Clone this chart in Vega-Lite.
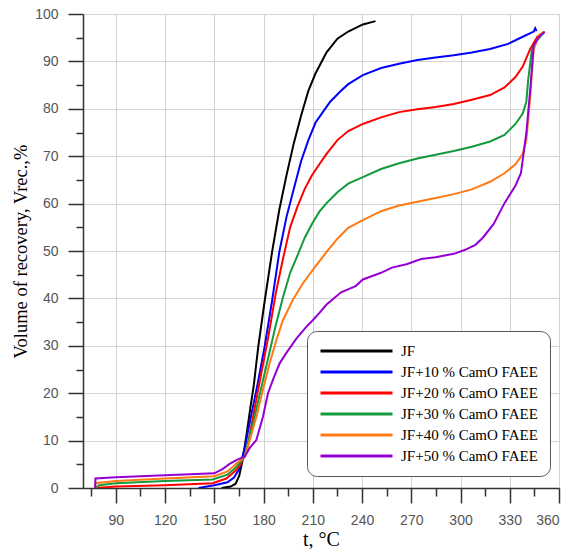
{
  "$schema": "https://vega.github.io/schema/vega-lite/v6.json",
  "width": 476,
  "height": 474,
  "autosize": {"type": "none"},
  "padding": {"left": 83, "top": 14, "right": 10, "bottom": 61},
  "background": "white",
  "config": {
    "view": {"stroke": null},
    "axis": {
      "labelFont": "Liberation Sans",
      "labelFontSize": 14,
      "labelColor": "#555555",
      "titleFont": "Liberation Serif",
      "titleFontSize": 20,
      "titleFontWeight": "normal",
      "titleColor": "#000000",
      "domainColor": "#333333",
      "domainWidth": 1.5,
      "tickColor": "#333333",
      "tickWidth": 1.5,
      "gridColor": "#d3d3d3",
      "gridWidth": 1
    }
  },
  "data": {
    "values": [
      {"s": "JF", "t": 154.5, "v": 0},
      {"s": "JF", "t": 160, "v": 0.3},
      {"s": "JF", "t": 163, "v": 0.9},
      {"s": "JF", "t": 165.2, "v": 2.6},
      {"s": "JF", "t": 167, "v": 5.5},
      {"s": "JF", "t": 169.7, "v": 11.4},
      {"s": "JF", "t": 172, "v": 17},
      {"s": "JF", "t": 174.1, "v": 21.8},
      {"s": "JF", "t": 176.8, "v": 29.9},
      {"s": "JF", "t": 180.7, "v": 39.5},
      {"s": "JF", "t": 185.2, "v": 49.8},
      {"s": "JF", "t": 189.6, "v": 58.7},
      {"s": "JF", "t": 194, "v": 66},
      {"s": "JF", "t": 198.4, "v": 72.7},
      {"s": "JF", "t": 202.9, "v": 78.6},
      {"s": "JF", "t": 207.3, "v": 83.8},
      {"s": "JF", "t": 211.7, "v": 87.5},
      {"s": "JF", "t": 218.4, "v": 91.9},
      {"s": "JF", "t": 225, "v": 94.8},
      {"s": "JF", "t": 231.6, "v": 96.3},
      {"s": "JF", "t": 240.5, "v": 97.8},
      {"s": "JF", "t": 248.2, "v": 98.5},

      {"s": "JF+10 % CamO FAEE", "t": 140.4, "v": 0},
      {"s": "JF+10 % CamO FAEE", "t": 150, "v": 0.6},
      {"s": "JF+10 % CamO FAEE", "t": 158, "v": 1.2},
      {"s": "JF+10 % CamO FAEE", "t": 162, "v": 2.2},
      {"s": "JF+10 % CamO FAEE", "t": 165.2, "v": 4},
      {"s": "JF+10 % CamO FAEE", "t": 168.6, "v": 8.5},
      {"s": "JF+10 % CamO FAEE", "t": 171.9, "v": 14.4},
      {"s": "JF+10 % CamO FAEE", "t": 176.3, "v": 21.8},
      {"s": "JF+10 % CamO FAEE", "t": 180.7, "v": 29.9},
      {"s": "JF+10 % CamO FAEE", "t": 185.2, "v": 39.5},
      {"s": "JF+10 % CamO FAEE", "t": 189.6, "v": 49.8},
      {"s": "JF+10 % CamO FAEE", "t": 194, "v": 57.2},
      {"s": "JF+10 % CamO FAEE", "t": 198.4, "v": 63.1},
      {"s": "JF+10 % CamO FAEE", "t": 202.9, "v": 69},
      {"s": "JF+10 % CamO FAEE", "t": 207.3, "v": 73.4},
      {"s": "JF+10 % CamO FAEE", "t": 211.7, "v": 77.1},
      {"s": "JF+10 % CamO FAEE", "t": 216.1, "v": 79.3},
      {"s": "JF+10 % CamO FAEE", "t": 220.6, "v": 81.5},
      {"s": "JF+10 % CamO FAEE", "t": 227.2, "v": 83.8},
      {"s": "JF+10 % CamO FAEE", "t": 231.6, "v": 85.2},
      {"s": "JF+10 % CamO FAEE", "t": 240.5, "v": 87.1},
      {"s": "JF+10 % CamO FAEE", "t": 251.6, "v": 88.6},
      {"s": "JF+10 % CamO FAEE", "t": 262.6, "v": 89.5},
      {"s": "JF+10 % CamO FAEE", "t": 273.7, "v": 90.3},
      {"s": "JF+10 % CamO FAEE", "t": 284.8, "v": 90.8},
      {"s": "JF+10 % CamO FAEE", "t": 295.9, "v": 91.3},
      {"s": "JF+10 % CamO FAEE", "t": 306.9, "v": 91.9},
      {"s": "JF+10 % CamO FAEE", "t": 318, "v": 92.6},
      {"s": "JF+10 % CamO FAEE", "t": 329, "v": 93.7},
      {"s": "JF+10 % CamO FAEE", "t": 337.9, "v": 95.2},
      {"s": "JF+10 % CamO FAEE", "t": 344.6, "v": 96.3},
      {"s": "JF+10 % CamO FAEE", "t": 345.5, "v": 97},
      {"s": "JF+10 % CamO FAEE", "t": 346.3, "v": 96.4},

      {"s": "JF+20 % CamO FAEE", "t": 77.4, "v": 0},
      {"s": "JF+20 % CamO FAEE", "t": 90, "v": 0.3},
      {"s": "JF+20 % CamO FAEE", "t": 120, "v": 0.6},
      {"s": "JF+20 % CamO FAEE", "t": 149, "v": 1.0},
      {"s": "JF+20 % CamO FAEE", "t": 157.3, "v": 2},
      {"s": "JF+20 % CamO FAEE", "t": 163.4, "v": 3.8},
      {"s": "JF+20 % CamO FAEE", "t": 166, "v": 5},
      {"s": "JF+20 % CamO FAEE", "t": 169.7, "v": 7.7},
      {"s": "JF+20 % CamO FAEE", "t": 174.1, "v": 15.9},
      {"s": "JF+20 % CamO FAEE", "t": 178.5, "v": 24},
      {"s": "JF+20 % CamO FAEE", "t": 183, "v": 32.1},
      {"s": "JF+20 % CamO FAEE", "t": 187.4, "v": 41},
      {"s": "JF+20 % CamO FAEE", "t": 191.8, "v": 48.3},
      {"s": "JF+20 % CamO FAEE", "t": 196.2, "v": 55},
      {"s": "JF+20 % CamO FAEE", "t": 200.7, "v": 59.4},
      {"s": "JF+20 % CamO FAEE", "t": 205.1, "v": 63.1},
      {"s": "JF+20 % CamO FAEE", "t": 209.5, "v": 66},
      {"s": "JF+20 % CamO FAEE", "t": 214, "v": 68.3},
      {"s": "JF+20 % CamO FAEE", "t": 218.4, "v": 70.5},
      {"s": "JF+20 % CamO FAEE", "t": 225, "v": 73.4},
      {"s": "JF+20 % CamO FAEE", "t": 231.6, "v": 75.3},
      {"s": "JF+20 % CamO FAEE", "t": 240.5, "v": 76.8},
      {"s": "JF+20 % CamO FAEE", "t": 251.6, "v": 78.2},
      {"s": "JF+20 % CamO FAEE", "t": 262.6, "v": 79.3},
      {"s": "JF+20 % CamO FAEE", "t": 273.7, "v": 79.9},
      {"s": "JF+20 % CamO FAEE", "t": 284.8, "v": 80.4},
      {"s": "JF+20 % CamO FAEE", "t": 295.9, "v": 81},
      {"s": "JF+20 % CamO FAEE", "t": 306.9, "v": 81.9},
      {"s": "JF+20 % CamO FAEE", "t": 318, "v": 82.9},
      {"s": "JF+20 % CamO FAEE", "t": 326.8, "v": 84.5},
      {"s": "JF+20 % CamO FAEE", "t": 333.5, "v": 86.7},
      {"s": "JF+20 % CamO FAEE", "t": 337.9, "v": 88.9},
      {"s": "JF+20 % CamO FAEE", "t": 342.4, "v": 92.6},
      {"s": "JF+20 % CamO FAEE", "t": 346.8, "v": 95.2},
      {"s": "JF+20 % CamO FAEE", "t": 351.2, "v": 96.3},

      {"s": "JF+30 % CamO FAEE", "t": 77.4, "v": 0},
      {"s": "JF+30 % CamO FAEE", "t": 80, "v": 0.6},
      {"s": "JF+30 % CamO FAEE", "t": 90, "v": 1.0},
      {"s": "JF+30 % CamO FAEE", "t": 120, "v": 1.5},
      {"s": "JF+30 % CamO FAEE", "t": 149, "v": 1.8},
      {"s": "JF+30 % CamO FAEE", "t": 158, "v": 2.8},
      {"s": "JF+30 % CamO FAEE", "t": 163, "v": 4.3},
      {"s": "JF+30 % CamO FAEE", "t": 168.5, "v": 6.6},
      {"s": "JF+30 % CamO FAEE", "t": 169.7, "v": 8.5},
      {"s": "JF+30 % CamO FAEE", "t": 174.1, "v": 14.4},
      {"s": "JF+30 % CamO FAEE", "t": 178.5, "v": 21},
      {"s": "JF+30 % CamO FAEE", "t": 183, "v": 27.7},
      {"s": "JF+30 % CamO FAEE", "t": 187.4, "v": 34.3},
      {"s": "JF+30 % CamO FAEE", "t": 191.8, "v": 40.2},
      {"s": "JF+30 % CamO FAEE", "t": 196.2, "v": 45.4},
      {"s": "JF+30 % CamO FAEE", "t": 200.7, "v": 49.1},
      {"s": "JF+30 % CamO FAEE", "t": 205.1, "v": 52.8},
      {"s": "JF+30 % CamO FAEE", "t": 209.5, "v": 55.7},
      {"s": "JF+30 % CamO FAEE", "t": 214, "v": 58.3},
      {"s": "JF+30 % CamO FAEE", "t": 218.4, "v": 60.1},
      {"s": "JF+30 % CamO FAEE", "t": 225, "v": 62.4},
      {"s": "JF+30 % CamO FAEE", "t": 231.6, "v": 64.2},
      {"s": "JF+30 % CamO FAEE", "t": 240.5, "v": 65.6},
      {"s": "JF+30 % CamO FAEE", "t": 251.6, "v": 67.3},
      {"s": "JF+30 % CamO FAEE", "t": 262.6, "v": 68.5},
      {"s": "JF+30 % CamO FAEE", "t": 273.7, "v": 69.5},
      {"s": "JF+30 % CamO FAEE", "t": 284.8, "v": 70.3},
      {"s": "JF+30 % CamO FAEE", "t": 295.9, "v": 71.1},
      {"s": "JF+30 % CamO FAEE", "t": 306.9, "v": 72},
      {"s": "JF+30 % CamO FAEE", "t": 318, "v": 73.1},
      {"s": "JF+30 % CamO FAEE", "t": 326.8, "v": 74.5},
      {"s": "JF+30 % CamO FAEE", "t": 333.5, "v": 76.8},
      {"s": "JF+30 % CamO FAEE", "t": 337.9, "v": 79},
      {"s": "JF+30 % CamO FAEE", "t": 340.1, "v": 81.5},
      {"s": "JF+30 % CamO FAEE", "t": 341.2, "v": 86},
      {"s": "JF+30 % CamO FAEE", "t": 343.5, "v": 92.6},
      {"s": "JF+30 % CamO FAEE", "t": 346.8, "v": 94.5},
      {"s": "JF+30 % CamO FAEE", "t": 351.2, "v": 96.3},

      {"s": "JF+40 % CamO FAEE", "t": 77.4, "v": 0},
      {"s": "JF+40 % CamO FAEE", "t": 77.6, "v": 1.0},
      {"s": "JF+40 % CamO FAEE", "t": 90, "v": 1.5},
      {"s": "JF+40 % CamO FAEE", "t": 120, "v": 2.0},
      {"s": "JF+40 % CamO FAEE", "t": 150, "v": 2.5},
      {"s": "JF+40 % CamO FAEE", "t": 158, "v": 3.5},
      {"s": "JF+40 % CamO FAEE", "t": 163, "v": 5},
      {"s": "JF+40 % CamO FAEE", "t": 168.5, "v": 6.6},
      {"s": "JF+40 % CamO FAEE", "t": 171.6, "v": 10.1},
      {"s": "JF+40 % CamO FAEE", "t": 175.6, "v": 15},
      {"s": "JF+40 % CamO FAEE", "t": 179.6, "v": 20.7},
      {"s": "JF+40 % CamO FAEE", "t": 183.7, "v": 26.3},
      {"s": "JF+40 % CamO FAEE", "t": 187.8, "v": 31.2},
      {"s": "JF+40 % CamO FAEE", "t": 191.8, "v": 35.4},
      {"s": "JF+40 % CamO FAEE", "t": 197.9, "v": 39.7},
      {"s": "JF+40 % CamO FAEE", "t": 204, "v": 43.2},
      {"s": "JF+40 % CamO FAEE", "t": 212.2, "v": 47},
      {"s": "JF+40 % CamO FAEE", "t": 218.4, "v": 49.8},
      {"s": "JF+40 % CamO FAEE", "t": 225, "v": 52.6},
      {"s": "JF+40 % CamO FAEE", "t": 231.6, "v": 54.9},
      {"s": "JF+40 % CamO FAEE", "t": 240.5, "v": 56.5},
      {"s": "JF+40 % CamO FAEE", "t": 251.6, "v": 58.4},
      {"s": "JF+40 % CamO FAEE", "t": 262.6, "v": 59.6},
      {"s": "JF+40 % CamO FAEE", "t": 273.7, "v": 60.4},
      {"s": "JF+40 % CamO FAEE", "t": 284.8, "v": 61.2},
      {"s": "JF+40 % CamO FAEE", "t": 295.9, "v": 62},
      {"s": "JF+40 % CamO FAEE", "t": 306.9, "v": 63},
      {"s": "JF+40 % CamO FAEE", "t": 318, "v": 64.6},
      {"s": "JF+40 % CamO FAEE", "t": 326.8, "v": 66.4},
      {"s": "JF+40 % CamO FAEE", "t": 333.5, "v": 68.3},
      {"s": "JF+40 % CamO FAEE", "t": 337.9, "v": 70.5},
      {"s": "JF+40 % CamO FAEE", "t": 340.1, "v": 73.4},
      {"s": "JF+40 % CamO FAEE", "t": 342.4, "v": 82.3},
      {"s": "JF+40 % CamO FAEE", "t": 344.6, "v": 92.6},
      {"s": "JF+40 % CamO FAEE", "t": 347.9, "v": 95.6},
      {"s": "JF+40 % CamO FAEE", "t": 351.2, "v": 96.3},

      {"s": "JF+50 % CamO FAEE", "t": 77.4, "v": 0},
      {"s": "JF+50 % CamO FAEE", "t": 77.6, "v": 2.0},
      {"s": "JF+50 % CamO FAEE", "t": 90, "v": 2.25},
      {"s": "JF+50 % CamO FAEE", "t": 120, "v": 2.7},
      {"s": "JF+50 % CamO FAEE", "t": 150, "v": 3.1},
      {"s": "JF+50 % CamO FAEE", "t": 155, "v": 4},
      {"s": "JF+50 % CamO FAEE", "t": 159.3, "v": 5.1},
      {"s": "JF+50 % CamO FAEE", "t": 164, "v": 6},
      {"s": "JF+50 % CamO FAEE", "t": 168.5, "v": 6.6},
      {"s": "JF+50 % CamO FAEE", "t": 171.5, "v": 8.4},
      {"s": "JF+50 % CamO FAEE", "t": 175.6, "v": 10.1},
      {"s": "JF+50 % CamO FAEE", "t": 179.6, "v": 15},
      {"s": "JF+50 % CamO FAEE", "t": 182.7, "v": 20},
      {"s": "JF+50 % CamO FAEE", "t": 185.7, "v": 22.8},
      {"s": "JF+50 % CamO FAEE", "t": 189.8, "v": 26.3},
      {"s": "JF+50 % CamO FAEE", "t": 193.9, "v": 28.5},
      {"s": "JF+50 % CamO FAEE", "t": 200, "v": 31.5},
      {"s": "JF+50 % CamO FAEE", "t": 206, "v": 34},
      {"s": "JF+50 % CamO FAEE", "t": 210, "v": 35.4},
      {"s": "JF+50 % CamO FAEE", "t": 214.2, "v": 37},
      {"s": "JF+50 % CamO FAEE", "t": 218.4, "v": 38.7},
      {"s": "JF+50 % CamO FAEE", "t": 227.2, "v": 41.3},
      {"s": "JF+50 % CamO FAEE", "t": 236.1, "v": 42.6},
      {"s": "JF+50 % CamO FAEE", "t": 240.5, "v": 44},
      {"s": "JF+50 % CamO FAEE", "t": 251.6, "v": 45.4},
      {"s": "JF+50 % CamO FAEE", "t": 258.2, "v": 46.5},
      {"s": "JF+50 % CamO FAEE", "t": 267.1, "v": 47.2},
      {"s": "JF+50 % CamO FAEE", "t": 276, "v": 48.3},
      {"s": "JF+50 % CamO FAEE", "t": 284.8, "v": 48.7},
      {"s": "JF+50 % CamO FAEE", "t": 295.9, "v": 49.4},
      {"s": "JF+50 % CamO FAEE", "t": 302.5, "v": 50.2},
      {"s": "JF+50 % CamO FAEE", "t": 309.1, "v": 51.3},
      {"s": "JF+50 % CamO FAEE", "t": 313.6, "v": 52.8},
      {"s": "JF+50 % CamO FAEE", "t": 320.2, "v": 55.7},
      {"s": "JF+50 % CamO FAEE", "t": 326.8, "v": 60.1},
      {"s": "JF+50 % CamO FAEE", "t": 333.5, "v": 63.8},
      {"s": "JF+50 % CamO FAEE", "t": 336.8, "v": 66.4},
      {"s": "JF+50 % CamO FAEE", "t": 340.1, "v": 74.9},
      {"s": "JF+50 % CamO FAEE", "t": 342.4, "v": 83.8},
      {"s": "JF+50 % CamO FAEE", "t": 344.6, "v": 93.4},
      {"s": "JF+50 % CamO FAEE", "t": 347.9, "v": 95.2},
      {"s": "JF+50 % CamO FAEE", "t": 351.2, "v": 96.2}
    ]
  },
  "mark": {"type": "line", "strokeWidth": 2, "clip": true},
  "encoding": {
    "x": {
      "field": "t",
      "type": "quantitative",
      "scale": {"domain": [70, 360], "nice": false, "zero": false},
      "axis": {
        "title": "t, °C",
        "values": [75, 90, 105, 120, 135, 150, 165, 180, 195, 210, 225, 240, 255, 270, 285, 300, 315, 330, 345, 360],
        "labelExpr": "datum.value % 30 === 0 ? datum.label : ''",
        "labelPadding": 10,
        "tickSize": {"condition": {"test": "datum.value % 30 === 0", "value": 15}, "value": 8},
        "gridOpacity": {"condition": {"test": "datum.value % 30 === 0", "value": 1}, "value": 0},
        "titleX": 238,
        "titleY": 51,
        "titleBaseline": "middle"
      }
    },
    "y": {
      "field": "v",
      "type": "quantitative",
      "scale": {"domain": [0, 100], "nice": false},
      "axis": {
        "title": "Volume of recovery, Vrec.,%",
        "titleFontSize": 18.5,
        "values": [0, 5, 10, 15, 20, 25, 30, 35, 40, 45, 50, 55, 60, 65, 70, 75, 80, 85, 90, 95, 100],
        "labelExpr": "datum.value % 10 === 0 ? datum.label : ''",
        "labelPadding": 10,
        "tickSize": {"condition": {"test": "datum.value % 10 === 0", "value": 15}, "value": 7},
        "gridOpacity": {"condition": {"test": "datum.value % 10 === 0", "value": 1}, "value": 0},
        "titleX": -63,
        "titleY": 237,
        "titleBaseline": "middle",
        "titleAngle": -90
      }
    },
    "color": {
      "field": "s",
      "type": "nominal",
      "scale": {
        "domain": ["JF", "JF+10 % CamO FAEE", "JF+20 % CamO FAEE", "JF+30 % CamO FAEE", "JF+40 % CamO FAEE", "JF+50 % CamO FAEE"],
        "range": ["#000000", "#0000ff", "#ff0000", "#139a3c", "#ff7a14", "#9400d3"]
      },
      "legend": {
        "title": null,
        "orient": "none",
        "legendX": 224,
        "legendY": 317,
        "padding": 12,
        "symbolType": "stroke",
        "symbolSize": 5184,
        "symbolStrokeWidth": 3,
        "clipHeight": 16,
        "rowPadding": 5,
        "labelOffset": 7,
        "labelFont": "Liberation Serif",
        "labelFontSize": 15,
        "labelColor": "#000000",
        "labelLimit": 300,
        "strokeColor": "#555555",
        "fillColor": "#ffffff",
        "cornerRadius": 10
      }
    }
  }
}
